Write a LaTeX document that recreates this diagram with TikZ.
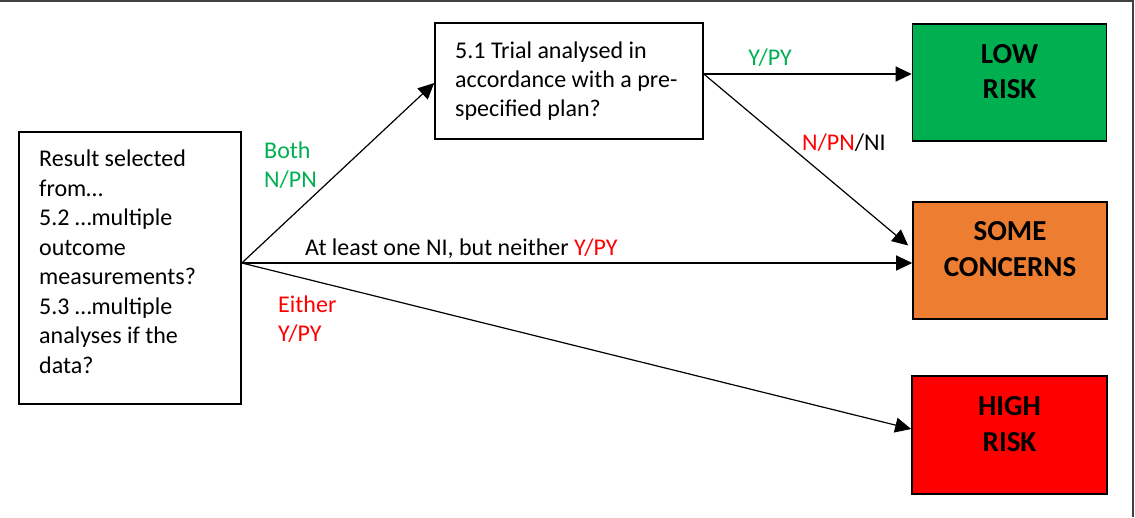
\documentclass[tikz,border=0pt]{standalone}
\usepackage{fontspec}
\setmainfont{Carlito}
\usetikzlibrary{arrows.meta}
\definecolor{riskgreen}{HTML}{00B050}
\definecolor{riskorange}{HTML}{ED7D31}
\definecolor{riskred}{HTML}{FF0000}
\definecolor{framegray}{HTML}{404040}

\begin{document}
\begin{tikzpicture}[x=1pt,y=-1pt,
  box/.style={draw=black, line width=1.6pt, rectangle, inner sep=0pt},
  bodytext/.style={font=\fontsize{24}{29}\selectfont, align=left, inner sep=0pt},
  risktext/.style={font=\bfseries\fontsize{29}{35.5}\selectfont, align=center, inner sep=0pt},
  conn/.style={line width=1.2pt, -{Triangle[length=16pt,width=15pt]}},
  lbl/.style={font=\fontsize{24}{29}\selectfont, align=left, inner sep=0pt}]
\useasboundingbox (0,0) rectangle (1135,517);

% outer frame (top and right edges)
\draw[framegray, line width=1.5pt] (0,1) -- (1133,1) -- (1133,517);

% boxes
\node[box, minimum width=222pt, minimum height=272pt] (sel) at (130,268) {};
\node[box, minimum width=268pt, minimum height=116pt] (plan) at (569,81) {};
\node[box, fill=riskgreen, minimum width=194pt, minimum height=117pt] (low) at (1009.5,82.5) {};
\node[box, fill=riskorange, minimum width=194pt, minimum height=117pt] (some) at (1010,260.5) {};
\node[box, fill=riskred, minimum width=195pt, minimum height=118pt] (high) at (1009.5,435) {};

% box texts
\node[bodytext, font=\fontsize{24}{29.5}\selectfont, anchor=west] (seltext) at (39,261.5)
  {Result selected\\from…\\5.2 …multiple\\outcome\\measurements?\\5.3 …multiple\\analyses if the\\data?};
\node[bodytext, anchor=west] (plantext) at (455,81)
  {5.1 Trial analysed in\\accordance with a pre-\\specified plan?};
\node[risktext] (lowtext) at ([yshift=11pt]low.center) {LOW\\RISK};
\node[risktext] (sometext) at ([yshift=11.5pt]some.center) {SOME\\CONCERNS};
\node[risktext] (hightext) at ([yshift=11pt]high.center) {HIGH\\RISK};

% connectors
\coordinate (selout) at ([yshift=5pt]sel.east);
\coordinate (planout) at ([yshift=7pt]plan.east);
\draw[conn] (selout) -- ([yshift=-2pt]plan.west);
\draw[conn] (selout) -- (selout -| some.west);
\draw[conn] (selout) -- ([yshift=6pt]high.west);
\draw[conn] (planout) -- (planout -| low.west);
\draw[conn] (planout) -- ([shift={(-4,-15)}]some.west);

% connector labels
\node[lbl, anchor=base, text=riskgreen] (lblypy) at (770,65) {Y/PY};
\node[lbl, anchor=base west] (lblnpn) at (802,150) {\textcolor{riskred}{N/PN}/NI};
\node[lbl, anchor=west, text=riskgreen] (lblboth) at (264,165) {Both\\N/PN};
\node[lbl, anchor=base west] (lblni) at (305,255) {At least one NI, but neither \textcolor{riskred}{Y/PY}};
\node[lbl, anchor=west, text=riskred] (lbleither) at (278,319) {Either\\Y/PY};
\end{tikzpicture}
\end{document}
